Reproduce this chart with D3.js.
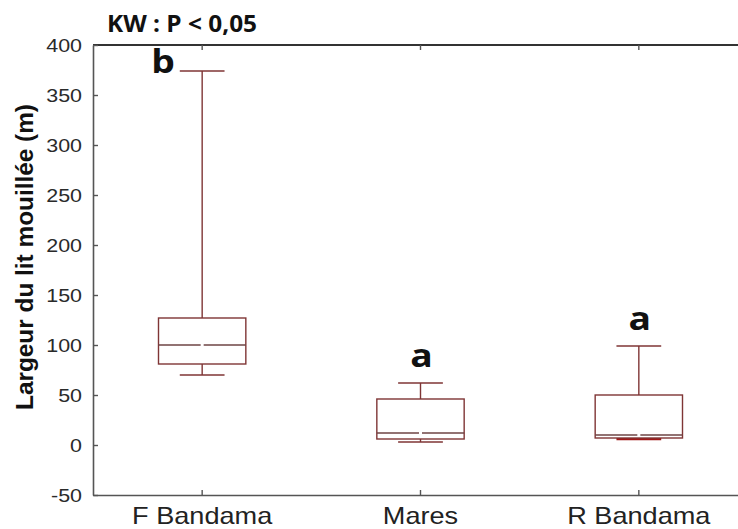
<!DOCTYPE html>
<html>
<head>
<meta charset="utf-8">
<script src="https://cdn.jsdelivr.net/npm/d3@7"></script>
<style>
  html, body { margin: 0; padding: 0; background: #fff; }
  svg { display: block; }
</style>
</head>
<body>
<svg id="chart" width="738" height="529"></svg>
<script>
// Wetted channel width per site (box = quartiles, whiskers = min/max)
const categories  = ["F Bandama", "Mares", "R Bandama"];
const whiskerLow  = [70, 3, 6];
const q1          = [81, 6, 7];
const median      = [100, 12, 10];
const q3          = [127, 46, 50];
const whiskerHigh = [374, 62, 99];
const groupLetters = ["b", "a", "a"];
const yTicks = [-50, 0, 50, 100, 150, 200, 250, 300, 350, 400];

const svg = d3.select("#chart");
const plotLeft = 93, plotRight = 748, plotTop = 45, plotBottom = 495;
const stretch = 1.13;          // horizontal widening of the text glyphs
const boxColor = "#7f3535";
const axisColor = "#555";

const x = d3.scaleBand().domain(categories).range([plotLeft, plotRight]).padding(0);
const y = d3.scaleLinear().domain([-50, 400]).range([plotBottom, plotTop]);

// frame: top border
svg.append("line")
  .attr("x1", plotLeft).attr("x2", plotRight).attr("y1", plotTop).attr("y2", plotTop)
  .attr("stroke", "#333").attr("stroke-width", 2);

// left axis with inward ticks, plain hyphen for negatives
const yAxis = svg.append("g")
  .attr("transform", `translate(${plotLeft},0)`)
  .call(d3.axisLeft(y).tickValues(yTicks).tickFormat(d => String(d))
    .tickSizeInner(-5).tickSizeOuter(0).tickPadding(0));
yAxis.select(".domain").attr("stroke", axisColor).attr("stroke-width", 1.6);
yAxis.selectAll(".tick line").attr("stroke", axisColor).attr("stroke-width", 1.4);
yAxis.selectAll(".tick text")
  .attr("x", -11 / stretch)
  .attr("transform", `scale(${stretch},1)`)
  .attr("font-family", "'Liberation Sans', Arial, sans-serif")
  .attr("font-size", 19)
  .attr("fill", "#2a2a2a");

// bottom axis with inward ticks
const xAxis = svg.append("g")
  .attr("transform", `translate(0,${plotBottom})`)
  .call(d3.axisBottom(x).tickSizeInner(-5).tickSizeOuter(0).tickPadding(0));
xAxis.select(".domain").attr("stroke", axisColor).attr("stroke-width", 1.6);
xAxis.selectAll(".tick line").attr("stroke", axisColor).attr("stroke-width", 1.4);
xAxis.selectAll(".tick text")
  .attr("x", 0)
  .attr("y", 29)
  .attr("dy", 0)
  .attr("transform", `scale(${stretch},1)`)
  .attr("font-family", "'Liberation Sans', Arial, sans-serif")
  .attr("font-size", 24)
  .attr("fill", "#222");

// top axis ticks (inward, no labels)
const xTop = svg.append("g")
  .attr("transform", `translate(0,${plotTop})`)
  .call(d3.axisTop(x).tickSizeInner(-5).tickSizeOuter(0).tickFormat(""));
xTop.select(".domain").remove();
xTop.selectAll(".tick line").attr("stroke", axisColor).attr("stroke-width", 1.4);

// box plots
const boxW = x.bandwidth() * 0.4;
const capW = x.bandwidth() * 0.205;
const boxes = svg.append("g").selectAll("g")
  .data(categories.map((c, i) => ({ c, i })))
  .join("g");

boxes.each(function ({ c, i }) {
  const g = d3.select(this);
  const cx = x(c) + x.bandwidth() / 2;
  // whiskers
  g.append("line").attr("x1", cx).attr("x2", cx)
    .attr("y1", y(q3[i])).attr("y2", y(whiskerHigh[i]))
    .attr("stroke", boxColor).attr("stroke-width", 1.4);
  g.append("line").attr("x1", cx).attr("x2", cx)
    .attr("y1", y(q1[i])).attr("y2", y(whiskerLow[i]))
    .attr("stroke", boxColor).attr("stroke-width", 1.4);
  g.append("line").attr("x1", cx - capW / 2).attr("x2", cx + capW / 2)
    .attr("y1", y(whiskerHigh[i])).attr("y2", y(whiskerHigh[i]))
    .attr("stroke", boxColor).attr("stroke-width", 1.4);
  g.append("line").attr("x1", cx - capW / 2).attr("x2", cx + capW / 2)
    .attr("y1", y(whiskerLow[i])).attr("y2", y(whiskerLow[i]))
    .attr("stroke", i === 2 ? "#a01818" : boxColor)
    .attr("stroke-width", i === 2 ? 2.4 : 1.4);
  // box
  g.append("rect")
    .attr("x", cx - boxW / 2).attr("width", boxW)
    .attr("y", y(q3[i])).attr("height", y(q1[i]) - y(q3[i]))
    .attr("fill", "#fff").attr("stroke", boxColor).attr("stroke-width", 1.4);
  // median, with the small break at the centre
  g.append("line").attr("x1", cx - boxW / 2).attr("x2", cx - 1.5)
    .attr("y1", y(median[i])).attr("y2", y(median[i]))
    .attr("stroke", "#6e4444").attr("stroke-width", 1.6);
  g.append("line").attr("x1", cx + 1.5).attr("x2", cx + boxW / 2)
    .attr("y1", y(median[i])).attr("y2", y(median[i]))
    .attr("stroke", "#6e4444").attr("stroke-width", 1.6);
  // group letter
  const lx = i === 0 ? cx - 39 : cx + 1;
  const ly = i === 0 ? y(whiskerHigh[i]) + 2 : y(whiskerHigh[i] + 16);
  g.append("text")
    .attr("transform", `translate(${lx},${ly}) scale(${stretch},1)`)
    .attr("text-anchor", "middle")
    .attr("font-family", "'Open Sans', sans-serif")
    .attr("font-weight", "bold")
    .attr("font-size", 33)
    .attr("fill", "#111")
    .text(groupLetters[i]);
});

// test annotation
svg.append("text")
  .attr("x", 107).attr("y", 32)
  .attr("font-family", "'Open Sans', sans-serif")
  .attr("font-weight", "bold")
  .attr("font-size", 24)
  .attr("textLength", 150).attr("lengthAdjust", "spacingAndGlyphs")
  .attr("fill", "#111")
  .text("KW : P < 0,05");

// y axis title
svg.append("text")
  .attr("transform", "translate(33,257) rotate(-90)")
  .attr("text-anchor", "middle")
  .attr("font-family", "'Liberation Sans', Arial, sans-serif")
  .attr("font-weight", "bold")
  .attr("font-size", 23)
  .attr("textLength", 306).attr("lengthAdjust", "spacingAndGlyphs")
  .attr("fill", "#111")
  .text("Largeur du lit mouillée (m)");
</script>
</body>
</html>
